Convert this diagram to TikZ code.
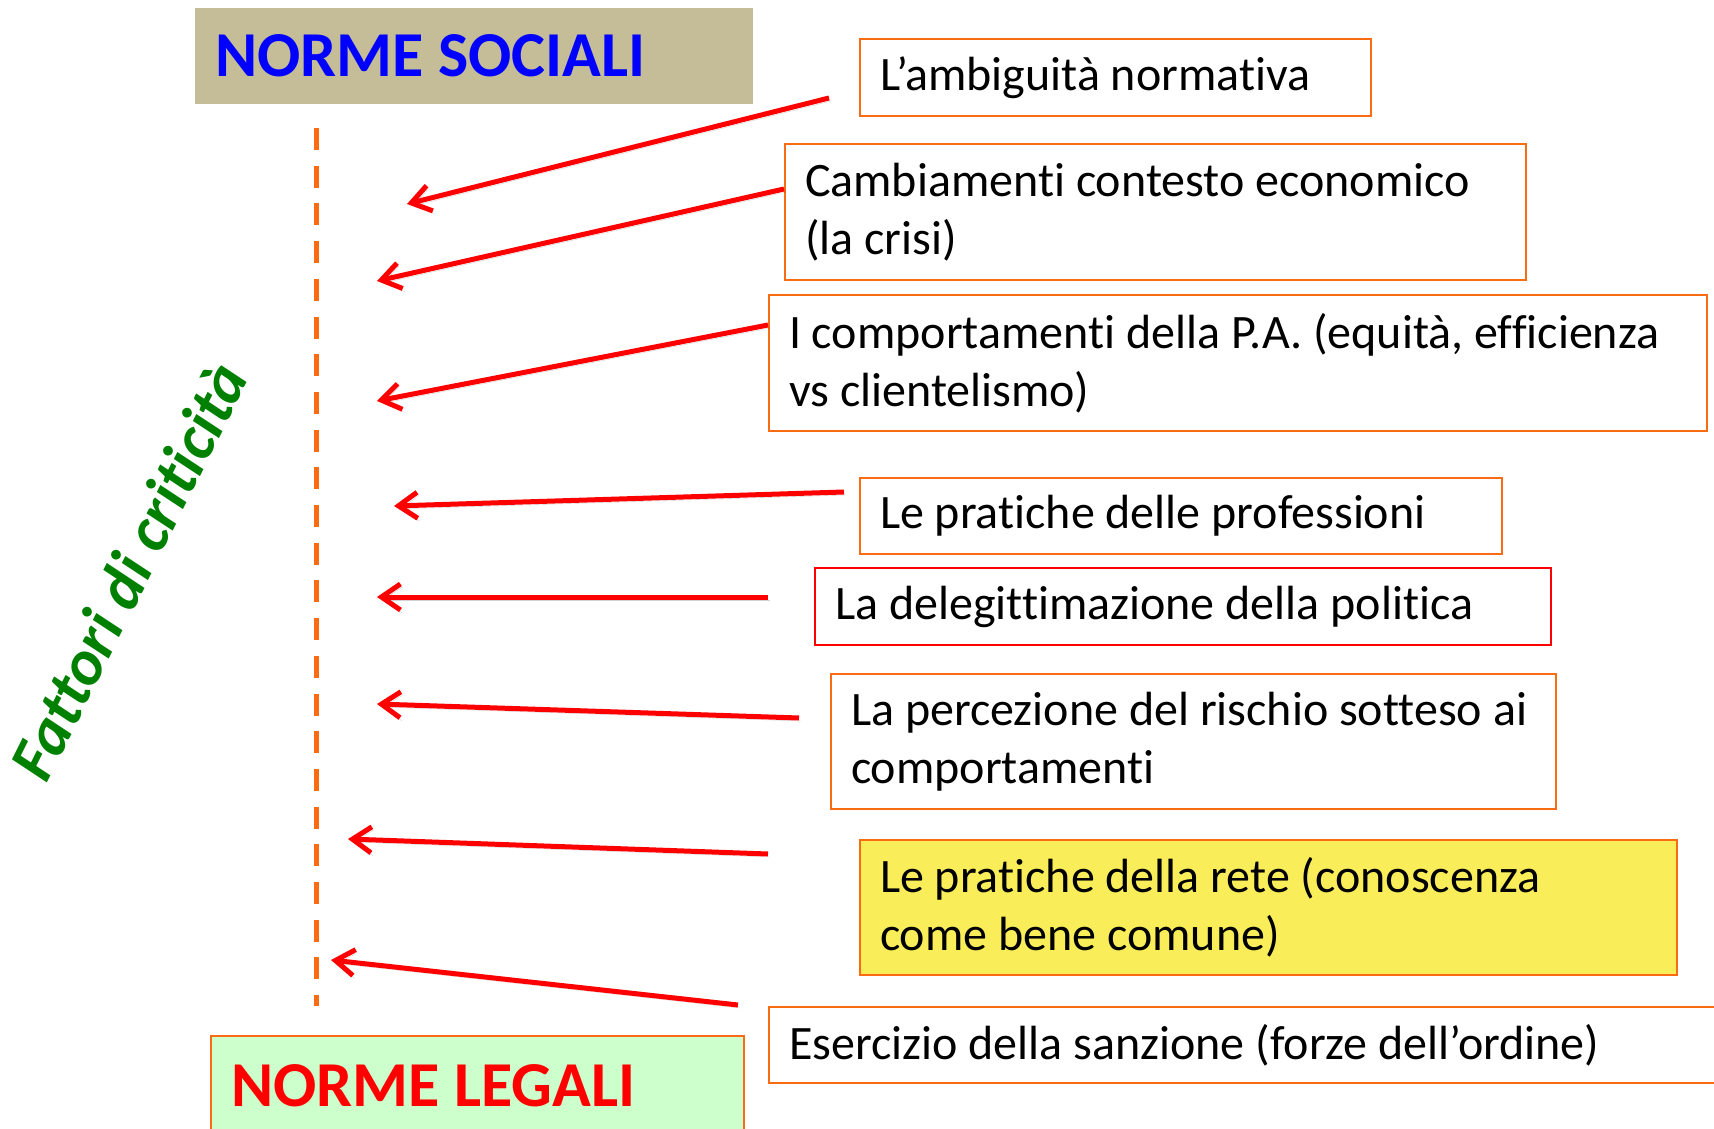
\documentclass[tikz,border=0pt]{standalone}
\usepackage{fontspec}
\setmainfont{Carlito}[Ligatures=NoCommon]
\usetikzlibrary{arrows.meta}
\definecolor{arancio}{RGB}{250,108,20}
\definecolor{rosso}{RGB}{255,0,0}
\definecolor{sabbia}{RGB}{196,189,151}
\definecolor{verdino}{RGB}{204,255,204}
\definecolor{giallo}{RGB}{250,237,90}
\definecolor{verde}{RGB}{0,128,0}
\definecolor{blu}{RGB}{0,0,255}

\tikzset{
  fattore/.style={draw=arancio, line width=2pt, fill=white, anchor=north west, align=left,
    inner xsep=20pt, inner ysep=0pt, font=\fontsize{48}{58}\selectfont,
    execute at begin node={\spaceskip=0pt\xspaceskip=0pt}},
  titolo/.style={anchor=north west, align=left, inner xsep=20pt, inner ysep=0pt,
    font=\fontsize{64}{76}\selectfont\bfseries,
    execute at begin node={\spaceskip=0pt\xspaceskip=0pt}},
  freccia/.style={draw=rosso, line width=5pt, -{Straight Barb[length=19pt,width=26pt]},
    preaction={draw=black, opacity=.18, transform canvas={xshift=2pt,yshift=-3pt}}},
  asse/.style={draw=arancio, line width=5pt, dash pattern=on 22pt off 15.7pt}
}

\begin{document}
\begin{tikzpicture}[x=1pt,y=-1pt]
  \useasboundingbox (0,0) rectangle (1714,1129);
  \clip (0,0) rectangle (1714,1129);

  % poli della scala
  \node[titolo, fill=sabbia, text=blu, text width=518pt, minimum height=96pt] (sociali) at (195,8) {NORME SOCIALI};
  \node[titolo, fill=verdino, draw=arancio, line width=2pt, text=rosso, text width=493pt, minimum height=100pt] (legali) at (210,1035) {NORME LEGALI};

  % asse tratteggiato
  \coordinate (asseA) at (316,128);
  \coordinate (asseB) at (316,1006);
  \draw[asse] (asseA) -- (asseB);

  \node[rotate=63.5, anchor=base, text=verde, font=\fontsize{64}{76}\selectfont\bfseries\itshape] (fattori) at (148,581) {Fattori di criticità};

  % fattori
  \node[fattore, text width=471pt, minimum height=77pt] (ambiguita) at (859,38) {L’ambiguità normativa};
  \node[fattore, text width=701pt, minimum height=136pt] (contesto) at (784,143) {Cambiamenti contesto economico\\(la crisi)};
  \node[fattore, text width=898pt, minimum height=136pt] (pa) at (768,294) {I comportamenti della P.A. (equità, efficienza\\vs clientelismo)};
  \node[fattore, text width=602pt, minimum height=76pt] (professioni) at (859,477) {Le pratiche delle professioni};
  \node[fattore, draw=rosso, text width=696pt, minimum height=77pt] (politica) at (814,567) {La delegittimazione della politica};
  \node[fattore, text width=685pt, minimum height=135pt] (rischio) at (830,673) {La percezione del rischio sotteso ai\\comportamenti};
  \node[fattore, fill=giallo, text width=777pt, minimum height=135pt] (rete) at (859,839) {Le pratiche della rete (conoscenza\\come bene comune)};
  \node[fattore, text width=960pt, minimum height=76pt] (sanzione) at (768,1006) {Esercizio della sanzione (forze dell’ordine)};

  % punte delle frecce
  \coordinate (p1) at (407,204);
  \coordinate (p2) at (377,281);
  \coordinate (p3) at (377,401);
  \coordinate (p4) at (394,506);
  \coordinate (p5) at (377,597);
  \coordinate (p6) at (377,704);
  \coordinate (p7) at (348,839);
  \coordinate (p8) at (331,960);

  \draw[freccia] ([xshift=-30pt,yshift=-60pt]ambiguita.north west) -- (p1);
  \draw[freccia] ([yshift=-46pt]contesto.north west) -- (p2);
  \draw[freccia] ([yshift=-31pt]pa.north west) -- (p3);
  \draw[freccia] ([xshift=-15pt,yshift=-15pt]professioni.north west) -- (p4);
  \draw[freccia] ([xshift=-46pt,yshift=-30pt]politica.north west) -- (p5);
  \draw[freccia] ([xshift=-31pt,yshift=-45pt]rischio.north west) -- (p6);
  \draw[freccia] ([xshift=-91pt,yshift=-15pt]rete.north west) -- (p7);
  \draw[freccia] ([xshift=-30pt,yshift=1pt]sanzione.north west) -- (p8);
\end{tikzpicture}
\end{document}
